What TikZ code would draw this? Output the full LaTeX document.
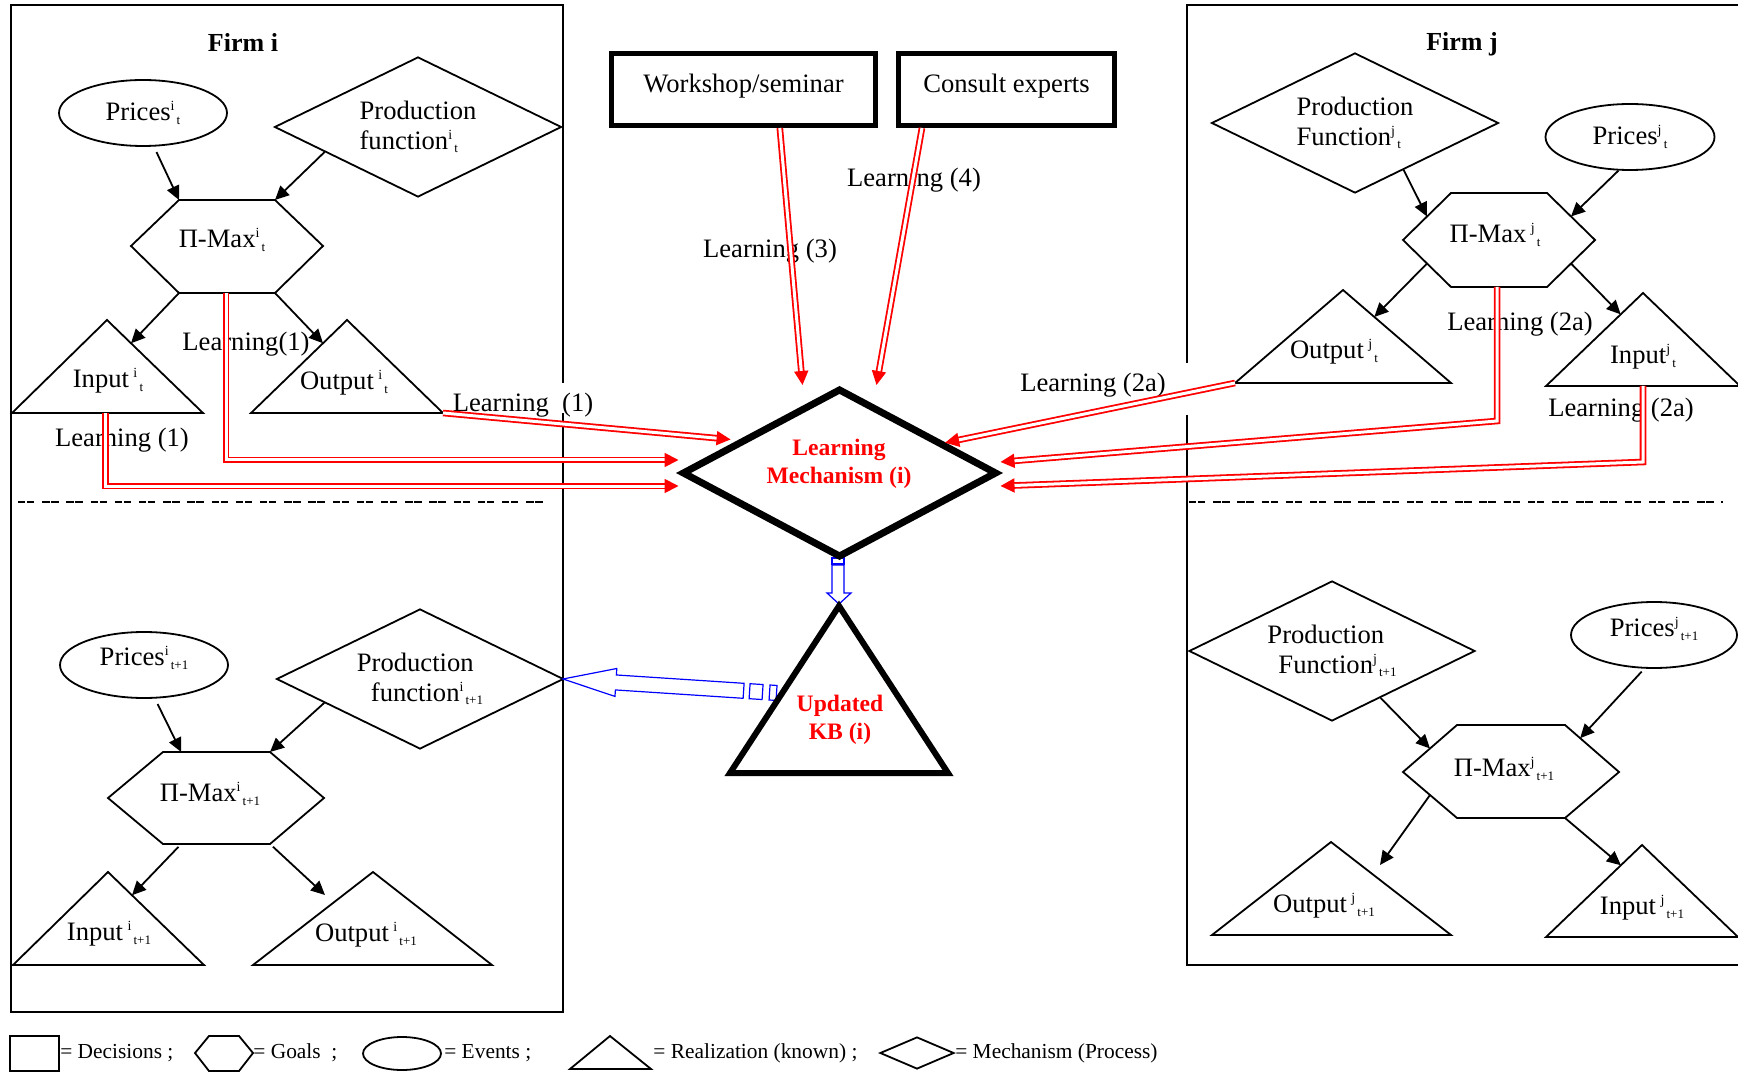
\documentclass[tikz,border=0pt]{standalone}
\usepackage{fontspec}
\setmainfont{Liberation Serif}
\usetikzlibrary{shapes.geometric,arrows.meta,calc}
\newcommand{\ix}[2]{\raisebox{0.8ex}{\fontsize{7}{8}\selectfont #1}\raisebox{-0.3ex}{\fontsize{6.5}{8}\selectfont\,#2}}
\begin{document}
\begin{tikzpicture}[x=0.5pt,y=-0.5pt,
	every node/.style={font=\fontsize{13.3}{15}\selectfont,inner sep=0pt},
	firmbox/.style={line width=1pt},
	tline/.style={line width=1.2pt,dash pattern=on 3.7pt off 0.8pt on 3.7pt off 3.9pt},
	shp/.style={line width=0.9pt},
	event/.style={draw,shp,ellipse,minimum width=84pt,minimum height=33pt},
	mech/.style={draw,shp,diamond,shape aspect=2,minimum width=143.5pt,minimum height=70pt,align=left},
	arr/.style={line width=0.9pt,-{Triangle[length=7pt,width=6.5pt]}},
	learn/.style={draw=red,double=white,line width=0.9pt,double distance=1.5pt,-{Triangle[length=7pt,width=7pt]}},
	kbox/.style={draw,line width=2.5pt,minimum height=36pt},
	blk/.style={draw=blue,fill=white,line width=0.6pt},
	ttl/.style={font=\fontsize{13}{15}\selectfont\bfseries},
	redtxt/.style={text=red,font=\fontsize{11.8}{14.3}\selectfont\bfseries,align=center},
	key/.style={font=\fontsize{10.7}{12}\selectfont,anchor=west},
	keyshp/.style={draw,line width=0.9pt}]
		\useasboundingbox (0,0) rectangle (1738,1074);
		
		% firm i
		\draw[firmbox] (563,383) -- (563,5) -- (11,5) -- (11,1012) -- (563,1012) -- (563,413);
		\draw[tline] (18,502) -- (547,502);
		\node[ttl] (fi) at (243,42) {Firm i};
		
		\node[event] (pri) at (143,113) {Prices\ix{i}{t}};
		\node[mech] (pfi) at (418,127) {Production\\function\ix{i}{t}};
		\draw[shp] (131,246) -- (179,200) coordinate (hiNW) -- (275,200) coordinate (hiNE) -- (323,246) -- (275,293) coordinate (hiSE) -- (179,293) coordinate (hiSW) -- cycle;
		\node (hi) at (222,240) {Π-Max\ix{i}{t}};
		\draw[shp] (12,413) coordinate (iiL) -- (107,320) coordinate (iiT) -- (203,413) coordinate (iiR) -- cycle;
		\node (ii) at (108,381) {Input\,\ix{i}{t}};
		\draw[shp] (251,413) coordinate (oiL) -- (347,320) coordinate (oiT) -- (443,413) coordinate (oiR) -- cycle;
		\node (oi) at (344,383) {Output\,\ix{i}{t}};
		
		\draw[arr,shorten <=3pt] (pri.-72) -- (hiNW);
		\draw[arr] (pfi.-165) -- (hiNE);
		\draw[arr] (hiSW) -- ($(iiT)!0.25!(iiR)$);
		\draw[arr] (hiSE) -- ($(oiT)!0.25!(oiL)$);
		
		\node[event] (pri1) at (144,665) {\raisebox{9pt}{Prices\ix{i}{t+1}}};
		\node[mech] (pfi1) at (420,679) {Production\\\hspace*{7pt}function\ix{i}{t+1}};
		\draw[shp] (108,798) -- (163,752) coordinate (hi1NW) -- (270,752) coordinate (hi1NE) -- (324,798) -- (270,844) coordinate (hi1SE) -- (163,844) coordinate (hi1SW) -- cycle;
		\node (hi1) at (210,794) {Π-Max\ix{i}{t+1}};
		\draw[shp] (13,965) coordinate (ii1L) -- (108,872) coordinate (ii1T) -- (204,965) coordinate (ii1R) -- cycle;
		\node (ii1) at (109,934) {Input\,\ix{i}{t+1}};
		\draw[shp] (253,965) coordinate (oi1L) -- (373,872) coordinate (oi1T) -- (492,965) coordinate (oi1R) -- cycle;
		\node (oi1) at (366,935) {Output\,\ix{i}{t+1}};
		\coordinate (oi1a) at (325,895);
		
		\draw[arr,shorten <=3pt] (pri1.-72) -- ($(hi1NW)!0.17!(hi1NE)$);
		\draw[arr] (pfi1.-166) -- (hi1NE);
		\draw[arr,shorten <=2pt] ($(hi1SW)!0.17!(hi1SE)$) -- ($(ii1T)!0.25!(ii1R)$);
		\draw[arr,shorten <=2pt] (hi1SE) -- (oi1a);
		
		% firm j
		\draw[firmbox] (1187,363) -- (1187,5) -- (1738,5);
		\draw[firmbox] (1187,415) -- (1187,965) -- (1738,965);
		\draw[tline] (1189,502) -- (1723,502);
		\node[ttl] (fj) at (1462,44) {Firm j};
		
		\node[mech] (pfj) at (1355,123) {Production\\Function\ix{j}{t}};
		\node[event,minimum width=84.5pt] (prj) at (1630,137) {Prices\ix{j}{t}};
		\draw[shp] (1403,240) coordinate (hjW) -- (1451,193) coordinate (hjNW) -- (1547,193) coordinate (hjNE) -- (1595,240) coordinate (hjE) -- (1547,287) coordinate (hjSE) -- (1451,287) coordinate (hjSW) -- cycle;
		\node (hj) at (1495,235) {Π-Max\,\ix{j}{t}};
		\draw[shp] (1235,383) coordinate (ojL) -- (1343,290) coordinate (ojT) -- (1451,383) coordinate (ojR) -- cycle;
		\node (oj) at (1334,352) {Output\,\ix{j}{t}};
		\draw[shp] (1546,386) coordinate (ijL) -- (1643,293) coordinate (ijT) -- (1740,386) coordinate (ijR) -- cycle;
		\node (ij) at (1643,357) {Input\ix{j}{t}};
		
		\draw[arr] (pfj.-44) -- ($(hjW)!0.5!(hjNW)$);
		\draw[arr] (prj.-109) -- ($(hjNE)!0.5!(hjE)$);
		\draw[arr] ($(hjW)!0.5!(hjSW)$) -- ($(ojT)!0.29!(ojR)$);
		\draw[arr] ($(hjE)!0.5!(hjSE)$) -- ($(ijT)!0.23!(ijL)$);
		
		\node[mech,minimum width=143pt] (pfj1) at (1332,651) {Production\\\hspace*{5.5pt}Function\ix{j}{t+1}};
		\node[event,minimum width=83pt] (prj1) at (1654,635) {\raisebox{8pt}{Prices\ix{j}{t+1}}};
		\draw[shp] (1403,772) coordinate (hj1W) -- (1457,725) coordinate (hj1NW) -- (1565,725) coordinate (hj1NE) -- (1619,772) coordinate (hj1E) -- (1565,818) coordinate (hj1SE) -- (1457,818) coordinate (hj1SW) -- cycle;
		\node (hj1) at (1504,769) {Π-Max\ix{j}{t+1}};
		\draw[shp] (1212,935) coordinate (oj1L) -- (1331,842) coordinate (oj1T) -- (1451,935) coordinate (oj1R) -- cycle;
		\node (oj1) at (1324,906) {Output\,\ix{j}{t+1}};
		\draw[shp] (1546,937) coordinate (ij1L) -- (1642,845) coordinate (ij1T) -- (1738,937) coordinate (ij1R) -- cycle;
		\node (ij1) at (1642,908) {Input\,\ix{j}{t+1}};
		\coordinate (oj1a) at (1380,865);
		
		\draw[arr] (pfj1.-44) -- ($(hj1W)!0.5!(hj1NW)$);
		\draw[arr,shorten <=2pt] (prj1.-106) -- ($(hj1NE)!0.28!(hj1E)$);
		\draw[arr] ($(hj1W)!0.5!(hj1SW)$) -- (oj1a);
		\draw[arr] (hj1SE) -- ($(ij1T)!0.22!(ij1L)$);
		
		% learning sources
		\node[kbox,minimum width=132pt] (ws) at (743.5,89.5) {\raisebox{6.5pt}{Workshop/seminar}};
		\node[kbox,minimum width=108pt] (ce) at (1006.5,89.5) {\raisebox{6.5pt}{Consult experts}};
		
		\node (l1a) at (246,344) {Learning(1)};
		\node (l1b) at (122,440) {Learning (1)};
		\node (l1c) at (523,405) {Learning~~(1)};
		\node (l3) at (770,251) {Learning (3)};
		\node (l4) at (914,180) {Learning (4)};
		\node (l2a) at (1093,385) {Learning (2a)};
		\node (l2b) at (1520,324) {Learning (2a)};
		\node (l2c) at (1621,410) {Learning (2a)};
		
		% update arrows
		\draw[blk] (832,558) rectangle (844,564);
		\draw[blk] (832,565) -- (844,565) -- (844,593) -- (851,593) -- (839,604) -- (827,593) -- (832,593) -- cycle;
		\begin{scope}[shift={(563,679)},rotate=-3.74]
			\draw[blk] (0,0) -- (53,-14) -- (53,-7.5) -- (181,-7.5) -- (181,7.5) -- (53,7.5) -- (53,14) -- cycle;
			\draw[blk] (187,-7.5) rectangle (200,7.5);
			\draw[blk] (207,-7.5) rectangle (214,7.5);
		\end{scope}
		
		\node[draw,diamond,line width=3.5pt,minimum width=157.5pt,minimum height=84.5pt] (lm) at (839.5,473) {};
		\node[redtxt] (lmt) at (839,464) {Learning\\Mechanism (i)};
		\draw[line width=3pt] (839,606) coordinate (kbT) -- (948,773) -- (730,773) -- cycle;
		\node[redtxt] (kb) at (840,720) {Updated\\KB (i)};
		
		\draw[learn,shorten >=4pt] (oiR) -- (lm.162);
		\draw[learn] ($(hiSW)!0.49!(hiSE)$) |- ([yshift=6.5pt]lm.west);
		\draw[learn] ($(iiL)!0.49!(iiR)$) |- ([yshift=-6.5pt]lm.west);
		\draw[learn] ($(ws.south)!0.27!(ws.south east)$) -- ([xshift=-18.5pt]lm.north);
		\draw[learn] ($(ce.south west)!0.235!(ce.south)$) -- ([xshift=18.5pt]lm.north);
		\draw[learn] (ojL) -- (lm.16);
		\draw[learn] ($(hjSW)!0.48!(hjSE)$) -- ++(0,134) -- ([yshift=5.5pt]lm.east);
		\draw[learn] ($(ijL)!0.5!(ijR)$) -- ++(0,76) -- ([yshift=-6.5pt]lm.east);
		
		% legend
		\node[keyshp,minimum width=24.5pt,minimum height=17.5pt] (kd) at (34.5,1053.5) {};
		\node[key] (kdt) at (kd.east) {= Decisions ;};
		\draw[keyshp] (195,1053) -- (209,1036) -- (239,1036) -- (253,1053) coordinate (kg) -- (239,1071) -- (209,1071) -- cycle;
		\node[key] (kgt) at (kg) {= Goals~~;};
		\node[keyshp,ellipse,minimum width=39pt,minimum height=16.5pt] (ke) at (402,1053.5) {};
		\node[key] (ket) at ([xshift=1pt]ke.east) {= Events ;};
		\draw[keyshp] (570,1069) -- (610,1036) -- (651,1069) -- cycle;
		\coordinate (kr) at (653,1053);
		\node[key] (krt) at (kr) {= Realization (known) ;};
		\node[keyshp,diamond,minimum width=37pt,minimum height=16pt] (km) at (917,1053) {};
		\node[key] (kmt) at (km.east) {= Mechanism (Process)};
	\end{tikzpicture}
\end{document}
